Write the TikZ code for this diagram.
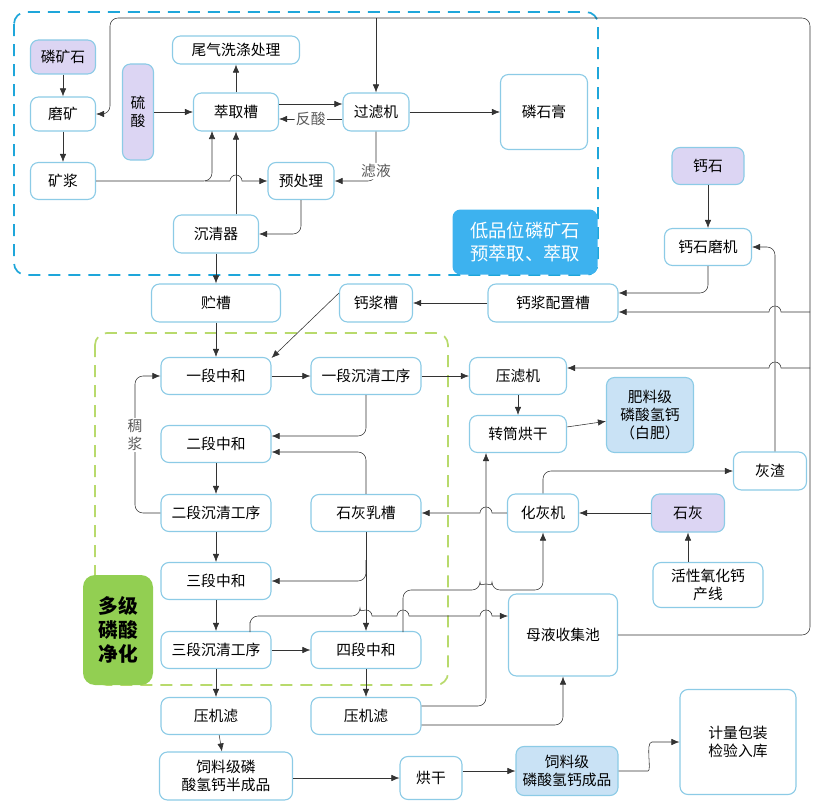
\documentclass[tikz,border=0pt]{standalone}
\usepackage{fontspec}
\newfontfamily\cjk{Noto Sans CJK SC}
\usetikzlibrary{arrows.meta}
\definecolor{edgeblue}{HTML}{8CCBE6}
\definecolor{lilac}{HTML}{DCD5F3}
\definecolor{paleblue}{HTML}{C9E2F5}
\definecolor{dashblue}{HTML}{1EA6DA}
\definecolor{dashgreen}{HTML}{B8DA6C}
\definecolor{tagblue}{HTML}{3DB2EF}
\definecolor{taggreen}{HTML}{92CF52}
\definecolor{linegray}{HTML}{333333}

\begin{document}
\begin{tikzpicture}[x=0.025cm,y=-0.025cm,
    font=\cjk\fontsize{10.5}{13}\selectfont,
    box/.style 2 args={draw=edgeblue,thick,rounded corners=2mm,fill=white,align=center,
        minimum width=#1*0.025cm,minimum height=#2*0.025cm,inner sep=1pt},
    raw/.style={fill=lilac},
    product/.style={fill=paleblue},
    flow/.style={draw=linegray,-{Latex[length=2mm,width=1.6mm]},rounded corners=2mm},
    lbl/.style={fill=white,text=black!65,inner sep=1pt}]
\useasboundingbox (0,0) rectangle (823,808);
% stage frames
\draw[dashblue,very thick,dash pattern=on 3mm off 2mm,rounded corners=3mm] (14,12) rectangle (598,275);
\node[fill=tagblue,text=white,rounded corners=2mm,minimum width=145*0.025cm,minimum height=65*0.025cm,
      align=left,font=\cjk\fontsize{13}{16}\selectfont] (tagA) at (525,242) {低品位磷矿石\\预萃取、萃取};
\draw[dashgreen,very thick,dash pattern=on 3mm off 2mm,rounded corners=3mm] (95,333) rectangle (448,685);
\node[fill=taggreen,rounded corners=3mm,minimum width=70*0.025cm,minimum height=110*0.025cm,
      align=center,font=\cjk\bfseries\fontsize{14}{17}\selectfont] (tagB) at (118,630) {多级\\磷酸\\净化};

% upper block
\node[box={65}{34},raw] (ore) at (63,57) {磷矿石};
\node[box={65}{34}] (mill) at (63,114) {磨矿};
\node[box={65}{37}] (slurry) at (63,181) {矿浆};
\node[box={31}{96},raw] (acid) at (138,112) {硫\\酸};
\node[box={127}{28}] (gas) at (236,50) {尾气洗涤处理};
\node[box={85}{38}] (tank) at (236,112) {萃取槽};
\node[box={66}{38}] (filter) at (376,112) {过滤机};
\node[box={87}{75}] (gyps) at (544,112) {磷石膏};
\node[box={66}{37}] (pretr) at (301,181) {预处理};
\node[box={85}{38}] (clar) at (216,234) {沉清器};

% calcium line
\node[box={72}{37},raw] (limestone) at (708,166) {钙石};
\node[box={87}{37}] (lsmill) at (708,247) {钙石磨机};
\node[box={130}{38}] (camix) at (553,303) {钙浆配置槽};
\node[box={73}{38}] (catank) at (376,303) {钙浆槽};
\node[box={129}{38}] (store) at (216,303) {贮槽};

% purification
\node[box={110}{37}] (n1) at (216,376) {一段中和};
\node[box={110}{37}] (s1) at (366,376) {一段沉清工序};
\node[box={110}{37}] (n2) at (216,444) {二段中和};
\node[box={110}{37}] (s2) at (216,513) {二段沉清工序};
\node[box={110}{37}] (milk) at (366,513) {石灰乳槽};
\node[box={110}{37}] (n3) at (216,581) {三段中和};
\node[box={110}{37}] (s3) at (216,650) {三段沉清工序};
\node[box={110}{37}] (n4) at (366,650) {四段中和};
\node[box={110}{37}] (pf1) at (216,716) {压机滤};
\node[box={110}{37}] (pf2) at (366,716) {压机滤};

% right side
\node[box={97}{37}] (press) at (518,376) {压滤机};
\node[box={97}{37}] (dryer) at (518,434) {转筒烘干};
\node[box={87}{75},product] (white) at (650,415) {肥料级\\磷酸氢钙\\（白肥）};
\node[box={73}{38}] (ash) at (770,471) {灰渣};
\node[box={71}{38}] (slaker) at (543,513) {化灰机};
\node[box={73}{38},raw] (lime) at (688,513) {石灰};
\node[box={110}{45}] (cao) at (708,585) {活性氧化钙\\产线};
\node[box={109}{82}] (mother) at (563,635) {母液收集池};
\node[box={133}{48}] (semi) at (226,776) {饲料级磷\\酸氢钙半成品};
\node[box={62}{43}] (dry) at (431,778) {烘干};
\node[box={102}{49},product] (final) at (567,771) {饲料级\\磷酸氢钙成品};
\node[box={116}{105}] (pack) at (738,742) {计量包装\\检验入库};

% upper connectors
\draw[flow] (ore) -- (mill);
\draw[flow] (mill) -- (slurry);
\draw[flow] (acid) -- (tank);
\draw[flow] (tank) -- (gas);
\draw[flow] (tank.east |- 0,104) -- (filter.west |- 0,104);
\draw[flow] (filter.west |- 0,119) -- node[lbl]{反酸} (tank.east |- 0,119);
\draw[flow] (filter) -- (gyps);
\draw[flow] (filter.south) |- node[lbl,pos=0.4]{滤液} (pretr.east);
\draw[flow] (slurry.east) -| (212,131);
\draw[flow,rounded corners=0pt] (205,181) -- (230,181) arc[start angle=180,end angle=360,radius=6] -- (pretr.west);
\draw[flow] (clar.north -| tank) -- (tank.south);
\draw[flow] (pretr.south) |- (clar.east);
\draw[flow] (clar) -- (store);

% calcium connectors
\draw[flow] (limestone) -- (lsmill);
\draw[flow] (lsmill.south) |- (camix.east |- 0,293);
\draw[flow] (camix) -- (catank);
\draw[flow] (ash.north -| 775,0) |- (lsmill.east);
\draw[flow] (store) -- (n1);
\draw[flow] (catank.west |- 0,293) -- (n1.north east |- 0,358);

% big return loop
\draw[flow] (mother.east) -| (810,18) -| (110,114) -- (mill.east);
\draw[flow] (376,18) -- (filter.north);
\draw[flow,rounded corners=0pt] (810,312) -- (781,312) arc[start angle=0,end angle=-180,radius=6] -- (camix.east |- 0,312);
\draw[flow,rounded corners=0pt] (810,368) -- (781,368) arc[start angle=0,end angle=-180,radius=6] -- (press.east |- 0,368);

% purification connectors
\draw[flow] (n1) -- (s1);
\draw[flow] (s1) -- (press);
\draw[flow] (press) -- (dryer);
\draw[flow] (dryer) -- (white);
\draw[flow] (s1.south) |- (n2.east |- 0,436);
\draw[flow] (milk.north) |- (n2.east |- 0,452);
\draw[flow] (n2) -- (s2);
\draw[flow] (s2.west) -| (135,376) -- (n1.west);
\node[lbl,align=center] (thick) at (135,435) {稠\\浆};
\draw[flow] (s2) -- (n3);
\draw[flow] (366,560) |- (n3.east);
\draw[flow] (milk) -- (n4);
\draw[flow] (n3) -- (s3);
\draw[flow] (s3) -- (n4);
\draw[flow] (s3) -- (pf1);
\draw[flow] (n4) -- (pf2);
\draw[flow] (pf1) -- (semi);
\draw[flow] (semi.east |- dry) -- (dry);
\draw[flow] (dry.east |- final) -- (final);
\draw[flow] (final.east) -- (640,771) .. controls (652,771) and (645,742) .. (660,742) -- (pack.west |- 0,742);

% lime connectors
\draw[flow,rounded corners=0pt] (slaker.west) -- (492,513) arc[start angle=0,end angle=-180,radius=6] -- (milk.east);
\draw[flow] (lime) -- (slaker);
\draw[flow] (cao.north -| lime) -- (lime.south);
\draw[flow] (slaker.north) |- (ash.west);
\draw[flow] (pf2.east |- 0,706) -| (dryer.south -| 486,0);
\draw[flow] (pf2.east |- 0,725) -| (mother.south);
\draw[flow] (403,632) |- (480,590) arc[start angle=180,end angle=360,radius=6] -| (slaker.south);
\draw[flow,rounded corners=0pt] (250,632) -- (250,622) [rounded corners=2mm] -- (250,616) -- (360,616)
    [rounded corners=0pt] arc[start angle=180,end angle=360,radius=6] -- (397,616)
    arc[start angle=180,end angle=360,radius=6] -- (480,616)
    arc[start angle=180,end angle=360,radius=6] -- (mother.west |- 0,616);
\end{tikzpicture}
\end{document}
